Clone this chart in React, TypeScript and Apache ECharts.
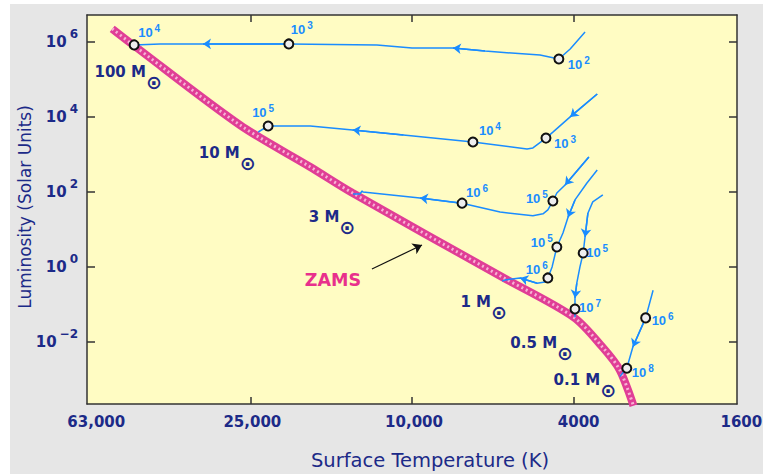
import React, { useEffect, useRef } from 'react';
import * as echarts from 'echarts';

// ---- axis ticks ----
const X_TICK_TEMPS = [63000, 25000, 10000, 4000, 1600];
const X_TICK_LABELS = ['63,000', '25,000', '10,000', '4000', '1600'];
const Y_TICK_EXPONENTS = [-2, 0, 2, 4, 6];

// ---- zero-age main sequence (T in K, L in solar units) ----
const ZAMS_T = [54700, 48600, 26500, 17800, 14000, 6000, 4000, 3400, 3080, 2850];
const ZAMS_L = [2.2e6, 8.2e5, 6000, 460, 93, 0.54, 0.046, 0.0074, 0.0018, 0.0002];

// ---- pre-main-sequence tracks ----
const T_100 = [3750, 4080, 4350, 4840, 6610, 7930, 10000, 12200, 20100, 32700, 41700, 48300];
const L_100 = [1.8e6, 6.4e5, 3.46e5, 4.4e5, 5.6e5, 6.8e5, 6.8e5, 8.2e5, 8.7e5, 8.7e5, 8.7e5, 8.2e5];
const T_10 = [3500, 4080, 4500, 4680, 5040, 5210, 7080, 10500, 14000, 17800, 22600, 23900];
const L_10 = [40500, 9900, 3900, 2700, 1480, 1390, 2130, 3270, 4440, 5680, 5680, 3930];
const T_3 = [3670, 4200, 4400, 4500, 4630, 4760, 5040, 6070, 7530, 9560, 13200, 13270, 13430, 13970];
const L_3 = [850, 152, 93, 57, 33, 26, 23, 29, 50, 69, 99, 105, 88, 88];
const T_1 = [3500, 3710, 3970, 4130, 4250, 4400, 4520, 4630, 4710, 4920, 5420, 5900, 6000];
const L_1 = [380, 172, 61, 21, 8.0, 3.4, 1.0, 0.51, 0.40, 0.37, 0.51, 0.45, 0.42];
const T_05 = [3390, 3590, 3690, 3750, 3790, 3860, 3930, 3970, 3970, 3970];
const L_05 = [83, 54, 27, 6.3, 2.35, 1.0, 0.37, 0.15, 0.076, 0.046];
const T_01 = [2550, 2660, 2860, 2960, 3080];
const L_01 = [0.24, 0.044, 0.0074, 0.002, 0.0012];

// age milestones (index on track, log10 of age in years)
const AGE_IDX_100 = [2, 8, 11];
const AGE_EXP_100 = [2, 3, 4];
const AGE_IDX_10 = [3, 6, 10];
const AGE_EXP_10 = [3, 4, 5];
const AGE_IDX_3 = [3, 8];
const AGE_EXP_3 = [5, 6];
const AGE_IDX_1 = [5, 7];
const AGE_EXP_1 = [5, 6];
const AGE_IDX_05 = [4, 8];
const AGE_EXP_05 = [5, 7];
const AGE_IDX_01 = [1, 3];
const AGE_EXP_01 = [6, 8];

// direction arrows (index of arrow tip on track)
const ARROW_IDX_100 = [5, 9];
const ARROW_IDX_10 = [1, 8];
const ARROW_IDX_3 = [1, 9];
const ARROW_IDX_1 = [3, 10];
const ARROW_IDX_05 = [3, 7];
const ARROW_IDX_01 = [2];

// mass labels (solar masses) and their anchor in the diagram
const MASS_NAMES = ['100', '10', '3', '1', '0.5', '0.1'];
const MASS_ANCHOR_T = [60300, 33400, 17900, 7580, 5710, 4470];
const MASS_ANCHOR_L = [2.39e5, 1720, 34.9, 0.19, 0.0154, 0.00159];

// ZAMS label and pointer
const ZAMS_LABEL_T = 15650;
const ZAMS_LABEL_L = 0.449;
const ZAMS_POINTER_T = [12550, 9450];
const ZAMS_POINTER_L = [0.88, 3.84];

// ---- styles ----
const NAVY = '#1c2a88';
const BLUE = '#1a8cff';
const AXIS = '#333333';
const MASS_FONT = 'bold 15px "DejaVu Sans"';
const X_LABEL_PAD = [18, 4, 4, 10, 12];
const AGE_LABEL_OFFSETS = [
  [[20, 6], [13, -14], [15, -12]],
  [[19, 5], [17, -11], [-5, -13]],
  [[-16, -3], [15, -11]],
  [[-15, -4], [-11, -8]],
  [[14, -1], [15, -1]],
  [[17, 3], [16, 4]],
];

const lg = Math.log10;
const pts = (T: number[], L: number[]) => T.map((t, i) => [lg(t), lg(L[i])]);

function textWidth(text: string, font: string) {
  const ctx = document.createElement('canvas').getContext('2d');
  if (!ctx) return text.length * 9;
  ctx.font = font;
  return ctx.measureText(text).width;
}

export default function App() {
  const ref = useRef<HTMLDivElement>(null);
  useEffect(() => {
    const chart = echarts.init(ref.current!, null, { renderer: 'svg' });
    const tracks = [
      { T: T_100, L: L_100, idx: AGE_IDX_100, exp: AGE_EXP_100, arrows: ARROW_IDX_100 },
      { T: T_10, L: L_10, idx: AGE_IDX_10, exp: AGE_EXP_10, arrows: ARROW_IDX_10 },
      { T: T_3, L: L_3, idx: AGE_IDX_3, exp: AGE_EXP_3, arrows: ARROW_IDX_3 },
      { T: T_1, L: L_1, idx: AGE_IDX_1, exp: AGE_EXP_1, arrows: ARROW_IDX_1 },
      { T: T_05, L: L_05, idx: AGE_IDX_05, exp: AGE_EXP_05, arrows: ARROW_IDX_05 },
      { T: T_01, L: L_01, idx: AGE_IDX_01, exp: AGE_EXP_01, arrows: ARROW_IDX_01 },
    ];
    const xTicks = X_TICK_TEMPS.map(lg);
    const xInner = xTicks.slice(1, -1);
    const xRich: any = {};
    X_LABEL_PAD.forEach((p, i) => {
      xRich['l' + i] = {
        fontFamily: 'DejaVu Sans', fontSize: 15, fontWeight: 'bold', color: NAVY,
        padding: [0, 0, 0, p],
      };
    });
    const axisLine = { show: true, onZero: false, lineStyle: { color: AXIS, width: 1.5 } };
    const tickStyle = { color: AXIS, width: 1.5 };

    const trackSeries = tracks.map((tr) => ({
      type: 'line', data: pts(tr.T, tr.L), symbol: 'none', z: 3,
      lineStyle: { color: BLUE, width: 1.5 }, silent: true,
    }));
    const circleData: any[] = [];
    const arrowData: any[] = [];
    tracks.forEach((tr, k) => {
      const p = pts(tr.T, tr.L);
      tr.idx.forEach((i, j) => {
        circleData.push({ value: p[i], exp: tr.exp[j], label: { offset: AGE_LABEL_OFFSETS[k][j] } });
      });
      tr.arrows.forEach((i) => arrowData.push({ coords: [p[i - 1], p[i]] }));
    });
    const massData = MASS_NAMES.map((n, i) => ({ name: n + ' M', value: [lg(MASS_ANCHOR_T[i]), lg(MASS_ANCHOR_L[i])] }));
    const sunData = MASS_NAMES.map((n, i) => ({
      name: '⊙',
      value: [lg(MASS_ANCHOR_T[i]), lg(MASS_ANCHOR_L[i])],
      label: { offset: [textWidth(n + ' M', MASS_FONT), 10] },
    }));
    const zams = pts(ZAMS_T, ZAMS_L);

    const option: any = {
      animation: false,
      backgroundColor: 'transparent',
      grid: {
        left: 87, top: 15, width: 650, height: 389, show: true, backgroundColor: '#fffcc3', borderWidth: 0,
        containLabel: false, outerBoundsMode: 'none',
      },
      xAxis: [
        {
          type: 'value', min: 3.2, max: 4.8, inverse: true, position: 'bottom',
          axisLine, splitLine: { show: false },
          axisTick: { show: true, inside: true, length: 7, customValues: xInner, lineStyle: tickStyle },
          axisLabel: {
            customValues: xTicks, margin: 10, rich: xRich, hideOverlap: false,
            formatter: (v: number) => {
              const i = xTicks.findIndex((t) => Math.abs(t - v) < 1e-6);
              return i < 0 ? '' : `{l${i}|${X_TICK_LABELS[i]}}`;
            },
          },
        },
        {
          type: 'value', min: 3.2, max: 4.8, inverse: true, position: 'top',
          axisLine, splitLine: { show: false }, axisLabel: { show: false },
          axisTick: { show: true, inside: true, length: 7, customValues: xInner, lineStyle: tickStyle },
        },
      ],
      yAxis: [
        {
          type: 'value', min: -3.65, max: 6.71, position: 'left',
          axisLine, splitLine: { show: false },
          axisTick: { show: true, inside: true, length: 8, customValues: Y_TICK_EXPONENTS, lineStyle: tickStyle },
          axisLabel: {
            customValues: Y_TICK_EXPONENTS, margin: 9,
            formatter: (v: number) => `{b|10}{s|${v < 0 ? '−' + Math.abs(v) : v}}`,
            rich: {
              b: { fontFamily: 'DejaVu Sans', fontSize: 15, fontWeight: 'bold', color: NAVY, lineHeight: 28 },
              s: { fontFamily: 'DejaVu Sans', fontSize: 12, fontWeight: 'bold', color: NAVY, lineHeight: 12, verticalAlign: 'top', padding: [0, 0, 0, 3] },
            },
          },
        },
        {
          type: 'value', min: -3.65, max: 6.71, position: 'right',
          axisLine, splitLine: { show: false }, axisLabel: { show: false },
          axisTick: { show: true, inside: true, length: 8, customValues: Y_TICK_EXPONENTS, lineStyle: tickStyle },
        },
      ],
      series: [
        {
          type: 'line', data: zams, symbol: 'none', z: 2, silent: true, smooth: 0.3,
          lineStyle: { color: '#e03e96', width: 8 },
        },
        {
          type: 'line', data: zams, symbol: 'none', z: 2, silent: true, smooth: 0.3,
          lineStyle: { color: '#f7b2d4', width: 3, type: [2, 3] },
        },
        ...trackSeries,
        {
          type: 'lines', coordinateSystem: 'cartesian2d', z: 4, silent: true,
          symbol: ['none', 'arrow'], symbolSize: 8,
          lineStyle: { color: BLUE, width: 1.5, opacity: 1, curveness: 0 },
          data: arrowData,
        },
        {
          type: 'lines', coordinateSystem: 'cartesian2d', z: 4, silent: true,
          symbol: ['none', 'arrow'], symbolSize: 9,
          lineStyle: { color: '#111', width: 1.2, opacity: 1, curveness: 0 },
          data: [{ coords: pts(ZAMS_POINTER_T, ZAMS_POINTER_L) }],
        },
        {
          type: 'scatter', z: 5, symbol: 'circle', symbolSize: 9, silent: true,
          itemStyle: { color: '#eeeeee', borderColor: '#111', borderWidth: 2, opacity: 1 },
          data: circleData,
          label: {
            show: true, position: 'inside',
            formatter: (p: any) => `{b|10}{s|${p.data.exp}}`,
            rich: {
              b: { fontFamily: 'Liberation Sans', fontSize: 13, fontWeight: 'bold', color: BLUE, lineHeight: 18 },
              s: { fontFamily: 'Liberation Sans', fontSize: 10, fontWeight: 'bold', color: BLUE, lineHeight: 10, verticalAlign: 'top', padding: [0, 0, 0, 2] },
            },
          },
        },
        {
          type: 'scatter', z: 6, symbolSize: 1, silent: true,
          itemStyle: { color: 'transparent', opacity: 1 },
          data: massData,
          label: {
            show: true, position: [0, 0], align: 'left', verticalAlign: 'top', formatter: '{b}',
            fontFamily: 'DejaVu Sans', fontSize: 15, fontWeight: 'bold', color: NAVY, lineHeight: 16,
          },
        },
        {
          type: 'scatter', z: 6, symbolSize: 1, silent: true,
          itemStyle: { color: 'transparent', opacity: 1 },
          data: sunData,
          label: {
            show: true, position: [0, 0], align: 'left', verticalAlign: 'top', formatter: '{b}',
            fontFamily: 'DejaVu Sans', fontSize: 19, fontWeight: 'bold', color: NAVY, lineHeight: 16,
          },
        },
        {
          type: 'scatter', z: 6, symbolSize: 1, silent: true,
          itemStyle: { color: 'transparent', opacity: 1 },
          data: [{ name: 'ZAMS', value: [lg(ZAMS_LABEL_T), lg(ZAMS_LABEL_L)] }],
          label: {
            show: true, position: 'inside', formatter: '{b}',
            fontFamily: 'DejaVu Sans', fontSize: 17.5, fontWeight: 'bold', color: '#e8308c',
          },
        },
      ],
      graphic: [
        {
          type: 'text', x: 430, y: 460,
          style: { text: 'Surface Temperature (K)', fill: NAVY, font: '19.5px "DejaVu Sans"', textAlign: 'center', textVerticalAlign: 'middle' },
        },
        {
          type: 'text', x: 25, y: 207, rotation: Math.PI / 2,
          style: { text: 'Luminosity (Solar Units)', fill: NAVY, font: '17px "DejaVu Sans"', textAlign: 'center', textVerticalAlign: 'middle' },
        },
      ],
    };
    chart.setOption(option);
    return () => chart.dispose();
  }, []);
  return (
    <div style={{ position: 'absolute', left: 0, top: 0, width: 763, height: 474, background: '#ffffff', overflow: 'hidden' }}>
      <div style={{ position: 'absolute', left: 10, top: 4, width: 753, height: 470, background: '#e6e6e6' }} />
      <div ref={ref} style={{ position: 'absolute', left: 0, top: 0, width: 763, height: 474 }} />
    </div>
  );
}
